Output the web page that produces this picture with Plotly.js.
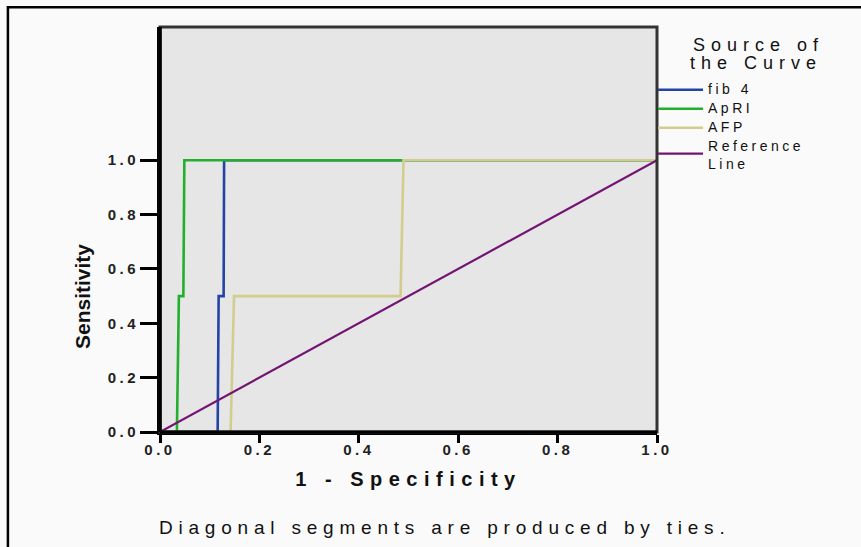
<!DOCTYPE html>
<html>
<head>
<meta charset="utf-8">
<script src="https://cdn.plot.ly/plotly-3.0.1.min.js"></script>
<style>
  html, body { margin: 0; padding: 0; background: #ffffff; }
  #chart { width: 861px; height: 547px; }
  .xtick text, .ytick text { letter-spacing: 3.5px; }
  .g-xtitle text { letter-spacing: 6.5px; }
  .legendtext { letter-spacing: 3.5px; font-size: 14px !important; }
</style>
</head>
<body>
<div id="chart"></div>
<script>
// ROC curve points (1 - Specificity, Sensitivity)
const fib4X = [0, 0.116, 0.118, 0.128, 0.129, 1.0];
const fib4Y = [0, 0,     0.5,   0.5,   1.0,   1.0];

const apriX = [0, 0.034, 0.038, 0.047, 0.049, 1.0];
const apriY = [0, 0,     0.5,   0.5,   1.0,   1.0];

const afpX = [0, 0.142, 0.149, 0.484, 0.49, 1.0];
const afpY = [0, 0,     0.5,   0.5,   1.0,  1.0];

const refX = [0, 1];
const refY = [0, 1];

const seriesNames = ["fib 4", "ApRI", "AFP", "Reference<br>Line"];
const seriesColors = ["#2443a6", "#22b02c", "#d3cd8c", "#731573"];

const xTickVals = [0, 0.2, 0.4, 0.6, 0.8, 1.0];
const xTickText = ["0.0", "0.2", "0.4", "0.6", "0.8", "1.0"];
const yTickVals = [0, 0.2, 0.4, 0.6, 0.8, 1.0];
const yTickText = ["0.0", "0.2", "0.4", "0.6", "0.8", "1.0"];

const xs = [fib4X, apriX, afpX, refX];
const ys = [fib4Y, apriY, afpY, refY];

const traces = xs.map((x, i) => ({
  x: x, y: ys[i], type: "scatter", mode: "lines",
  name: seriesNames[i],
  line: { color: seriesColors[i], width: i === 3 ? 2.2 : 2.6 },
  hoverinfo: "skip"
}));

const baseFont = "Liberation Sans, Arial, sans-serif";

const layout = {
  width: 861, height: 547,
  margin: { l: 160, r: 204, t: 27, b: 115 },
  paper_bgcolor: "#fafafa",
  plot_bgcolor: "#e6e6e6",
  showlegend: true,
  legend: {
    x: 0.992, xanchor: "left", y: 0.881, yanchor: "top",
    bgcolor: "rgba(0,0,0,0)",
    font: { family: baseFont, size: 11.5, color: "#111" },
    itemwidth: 45,
    tracegroupgap: 0
  },
  xaxis: {
    range: [0, 1], fixedrange: true,
    tickvals: xTickVals, ticktext: xTickText,
    ticks: "outside", ticklen: 8, tickwidth: 3, tickcolor: "#000",
    ticklabelstandoff: -6,
    showline: true, linecolor: "#000", linewidth: 3,
    showgrid: false, zeroline: false, layer: "above traces",
    tickfont: { family: baseFont, size: 15, color: "#222", weight: "bold" },
    title: { text: "1 - Specificity", standoff: 15,
             font: { family: baseFont, size: 20, color: "#111", weight: "bold" } }
  },
  yaxis: {
    range: [0, 1.49], fixedrange: true,
    tickvals: yTickVals, ticktext: yTickText,
    ticks: "outside", ticklen: 17, tickwidth: 3, tickcolor: "#000",
    ticklabelstandoff: -2,
    showline: true, linecolor: "#000", linewidth: 3,
    showgrid: false, zeroline: false, layer: "above traces",
    tickfont: { family: baseFont, size: 15, color: "#222", weight: "bold" }
  },
  shapes: [
    { type: "rect", xref: "paper", yref: "paper",
      x0: -0.306, x1: 1.45, y0: -0.35, y1: 1.049,
      line: { color: "#000", width: 2.5 }, fillcolor: "rgba(0,0,0,0)", layer: "above" },
    { type: "rect", xref: "paper", yref: "paper",
      x0: 0, x1: 1, y0: 0, y1: 1,
      line: { color: "#333", width: 3 }, fillcolor: "rgba(0,0,0,0)", layer: "above" },
    { type: "line", xref: "paper", yref: "paper", x0: 0, x1: 1, y0: 0, y1: 0,
      line: { color: "#000", width: 3 }, layer: "above" },
    { type: "line", xref: "paper", yref: "paper", x0: 0, x1: 0, y0: 0, y1: 1,
      line: { color: "#000", width: 3.5 }, layer: "above" }
  ],
  annotations: [
    { xref: "paper", yref: "paper", x: 0.572, y: -0.237, xanchor: "center", yanchor: "middle",
      text: "Diagonal segments are produced by ties.", showarrow: false,
      font: { family: baseFont, size: 19, color: "#111" } },
    { xref: "paper", yref: "y", x: -0.157, y: 0.5, xanchor: "center", yanchor: "middle",
      textangle: -90, text: "Sensitivity", showarrow: false,
      font: { family: "Liberation Sans Narrow, Arial Narrow, " + baseFont, size: 21, color: "#111", weight: "bold" } },
    { xref: "paper", yref: "paper", x: 1.205, y: 0.956, xanchor: "center", yanchor: "middle",
      text: "Source of", showarrow: false,
      font: { family: baseFont, size: 18, color: "#111" } },
    { xref: "paper", yref: "paper", x: 1.2, y: 0.912, xanchor: "center", yanchor: "middle",
      text: "the Curve", showarrow: false,
      font: { family: baseFont, size: 18, color: "#111" } }
  ]
};

Plotly.newPlot("chart", traces, layout, { displayModeBar: false, staticPlot: true }).then(() => {
  // wide SPSS-like spacing for annotation texts
  document.querySelectorAll(".annotation-text").forEach(t => {
    const s = t.textContent;
    if (s.indexOf("Diagonal") === 0) t.style.letterSpacing = "5.8px";
    if (s.indexOf("Source") === 0 || s.indexOf("the Curve") === 0) t.style.letterSpacing = "6px";
  });
});
</script>
</body>
</html>
